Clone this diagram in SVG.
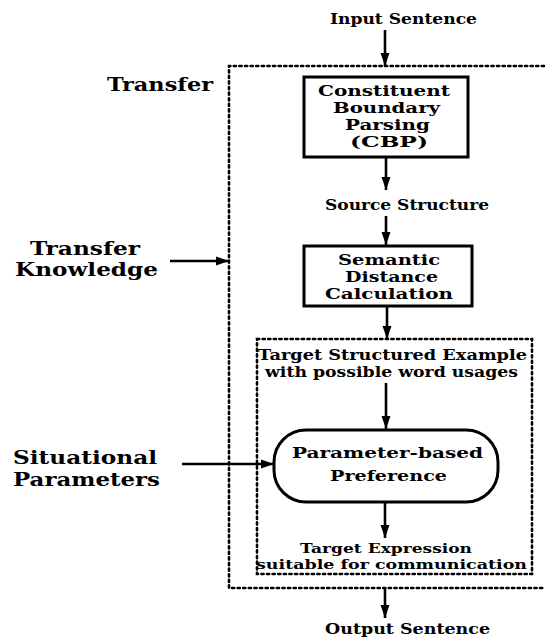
<svg xmlns="http://www.w3.org/2000/svg" width="545" height="637" viewBox="0 0 545 637">
<style>
text{font-family:"DejaVu Serif","Liberation Serif",serif;font-weight:bold;fill:#000}
.s{font-size:15px}
.t{font-size:13.5px}
.b{font-size:14px}
.l{font-size:19px}
.dot{fill:none;stroke:#000;stroke-width:2.6;stroke-dasharray:2.2 3.4;stroke-linecap:round}
.box{fill:#fff;stroke:#000;stroke-width:3}
.arr{stroke:#000;stroke-width:2.6;fill:none;marker-end:url(#ah)}
</style>
<defs>
<marker id="ah" markerUnits="userSpaceOnUse" markerWidth="14" markerHeight="10" refX="13" refY="5" orient="auto">
<path d="M0,0.5 L13,5 L0,9.5 z" fill="#000"/>
</marker>
</defs>
<rect width="545" height="637" fill="#fff"/>
<g id="containers">
<path id="transfer-box" class="dot" d="M544,66 H229 V588 H544"/>
<rect id="target-box" class="dot" x="257" y="339" width="275" height="235"/>
</g>
<g id="connectors">
<line class="arr" x1="385" y1="30" x2="385" y2="66"/>
<line class="arr" x1="386" y1="157" x2="386" y2="190"/>
<line class="arr" x1="386" y1="216" x2="386" y2="245"/>
<line class="arr" x1="387" y1="306" x2="387" y2="339"/>
<line class="arr" x1="386" y1="383" x2="386" y2="429"/>
<line class="arr" x1="385" y1="502" x2="385" y2="538"/>
<line class="arr" x1="385" y1="588" x2="385" y2="618"/>
<line class="arr" x1="170" y1="261" x2="229" y2="261"/>
<line class="arr" x1="182" y1="464" x2="274" y2="464"/>
</g>
<g id="input"><text class="s" x="330" y="24" textLength="147" lengthAdjust="spacingAndGlyphs">Input Sentence</text></g>
<g id="transfer-label"><text class="l" x="107" y="91" textLength="106" lengthAdjust="spacingAndGlyphs">Transfer</text></g>
<g id="cbp">
<rect class="box" x="304" y="77" width="164" height="80"/>
<text class="b" x="318" y="96" textLength="132" lengthAdjust="spacingAndGlyphs">Constituent</text>
<text class="b" x="333" y="113" textLength="107" lengthAdjust="spacingAndGlyphs">Boundary</text>
<text class="b" x="345" y="130" textLength="85" lengthAdjust="spacingAndGlyphs">Parsing</text>
<text class="b" x="350" y="147" textLength="78" lengthAdjust="spacingAndGlyphs">(CBP)</text>
</g>
<g id="source"><text class="s" x="325" y="210" textLength="164" lengthAdjust="spacingAndGlyphs">Source Structure</text></g>
<g id="sdc">
<rect class="box" x="304" y="246" width="168" height="60"/>
<text class="b" x="338" y="265" textLength="102" lengthAdjust="spacingAndGlyphs">Semantic</text>
<text class="b" x="345" y="282" textLength="93" lengthAdjust="spacingAndGlyphs">Distance</text>
<text class="b" x="325" y="299" textLength="128" lengthAdjust="spacingAndGlyphs">Calculation</text>
</g>
<g id="transfer-knowledge">
<text class="l" x="30" y="255" textLength="110" lengthAdjust="spacingAndGlyphs">Transfer</text>
<text class="l" x="15" y="276" textLength="143" lengthAdjust="spacingAndGlyphs">Knowledge</text>
</g>
<g id="target-structured">
<text class="s" x="258" y="360" textLength="269" lengthAdjust="spacingAndGlyphs">Target Structured Example</text>
<text class="s" x="265" y="377" textLength="253" lengthAdjust="spacingAndGlyphs">with possible word usages</text>
</g>
<g id="preference">
<rect class="box" x="274" y="430" width="224" height="72" rx="32" ry="32"/>
<text class="b" x="292" y="458" textLength="191" lengthAdjust="spacingAndGlyphs">Parameter-based</text>
<text class="b" x="330" y="481" textLength="117" lengthAdjust="spacingAndGlyphs">Preference</text>
</g>
<g id="situational">
<text class="l" x="13" y="464" textLength="144" lengthAdjust="spacingAndGlyphs">Situational</text>
<text class="l" x="13" y="486" textLength="147" lengthAdjust="spacingAndGlyphs">Parameters</text>
</g>
<g id="target-expression">
<text class="t" x="300" y="553" textLength="172" lengthAdjust="spacingAndGlyphs">Target Expression</text>
<text class="t" x="256" y="569" textLength="271" lengthAdjust="spacingAndGlyphs">suitable for communication</text>
</g>
<g id="output"><text class="s" x="325" y="634" textLength="165" lengthAdjust="spacingAndGlyphs">Output Sentence</text></g>
</svg>
